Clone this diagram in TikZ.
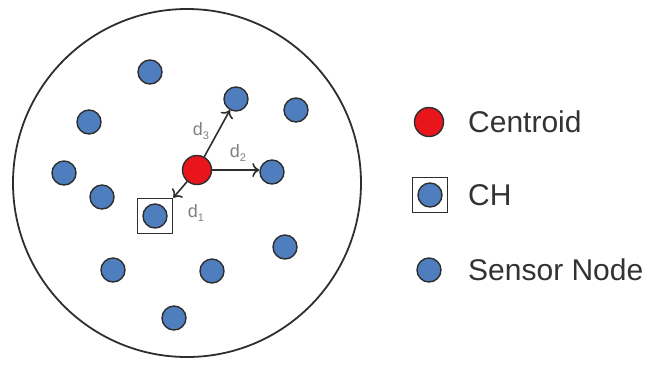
\documentclass[tikz,border=0pt]{standalone}
\usepackage{fontspec}
\setmainfont{Liberation Sans}
\usetikzlibrary{arrows.meta}
\definecolor{nodeblue}{HTML}{4F7EBE}
\definecolor{cred}{HTML}{E8151B}
\definecolor{edgegray}{HTML}{2E2E2E}
\definecolor{txtgray}{HTML}{333333}
\tikzset{
  sensor/.style={circle,draw=edgegray,line width=1.4pt,fill=nodeblue,minimum size=24pt,inner sep=0pt},
  centroid/.style={circle,draw=edgegray,line width=1.4pt,fill=cred,minimum size=29pt,inner sep=0pt},
  chbox/.style={draw=edgegray,line width=1.6pt,minimum size=35pt,inner sep=0pt},
  distarrow/.style={draw=edgegray,line width=1.6pt,-{To[length=7pt,width=14pt]}},
  dlabel/.style={text=gray,font=\fontsize{18}{18}\selectfont,inner sep=1pt},
  legtext/.style={text=txtgray,font=\fontsize{30}{30}\selectfont,anchor=west,inner sep=0pt}
}
\begin{document}
\begin{tikzpicture}[x=1pt,y=-1pt]
\useasboundingbox (0,0) rectangle (650,368);
\node[draw=edgegray,line width=1.8pt,circle,minimum size=348pt,inner sep=0pt] (field) at (187,183) {};
% sensor nodes
\node[sensor] (s1) at (150,72) {};
\node[sensor] (s2) at (236,99) {};
\node[sensor] (s3) at (296,110) {};
\node[sensor] (s4) at (89,122) {};
\node[sensor] (s5) at (64,173) {};
\node[sensor] (s6) at (102,197) {};
\node[sensor] (s7) at (272,172) {};
\node[sensor] (s8) at (285,247) {};
\node[sensor] (s9) at (113,270) {};
\node[sensor] (s10) at (212,271) {};
\node[sensor] (s11) at (174,318) {};
\node[sensor] (ch) at (155,216) {};
\node[chbox] (chb) at (155,216) {};
\node[centroid] (c) at (197,170) {};
% arrows
\draw[distarrow] (c) -- (s2);
\draw[distarrow] (c.east) -- (c.east -| s7.west);
\draw[distarrow] (c) -- (chb.north east);
\node[dlabel] (l3) at (201,131) {d\raisebox{-0.35ex}{\fontsize{11}{11}\selectfont 3}};
\node[dlabel] (l2) at (238,153) {d\raisebox{-0.35ex}{\fontsize{11}{11}\selectfont 2}};
\node[dlabel] (l1) at (196,213) {d\raisebox{-0.35ex}{\fontsize{11}{11}\selectfont 1}};
% legend
\node[centroid] (lc) at (429,122) {};
\node[legtext] (tc) at (468,122) {Centroid};
\node[sensor] (lch) at (430,195) {};
\node[chbox] (lchb) at (430,195) {};
\node[legtext] (tch) at (468,195) {CH};
\node[sensor] (ls) at (429,270) {};
\node[legtext] (ts) at (468,270) {Sensor Node};
\end{tikzpicture}
\end{document}
